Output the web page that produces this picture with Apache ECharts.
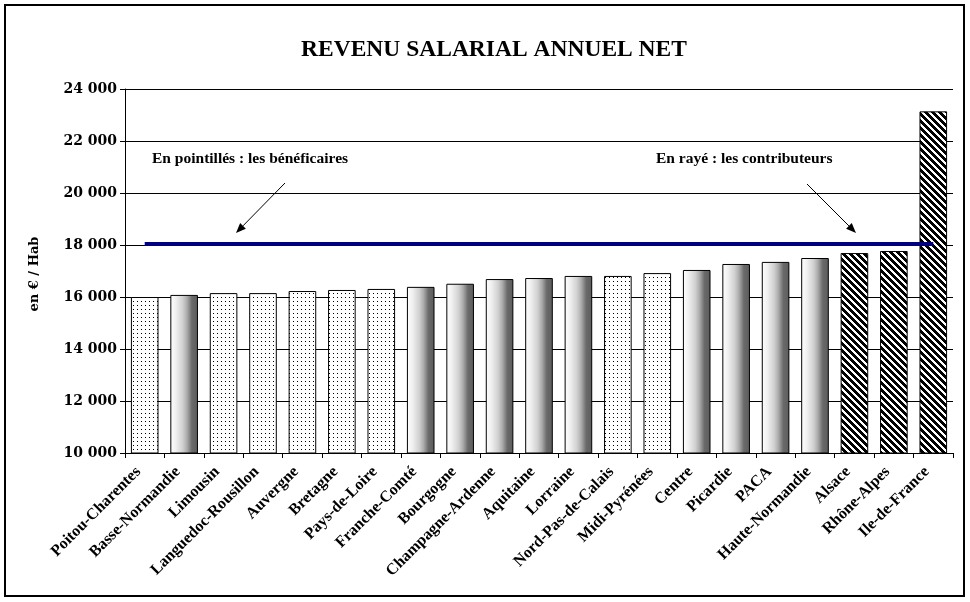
<!DOCTYPE html>
<html>
<head>
<meta charset="utf-8">
<script src="https://cdn.jsdelivr.net/npm/echarts@6/dist/echarts.min.js"></script>
<style>
  html, body { margin: 0; padding: 0; background: #fff; }
  #chart { width: 970px; height: 602px; }
</style>
</head>
<body>
<div id="chart"></div>
<script>
// ---------- DATA ----------
const categories = [
  'Poitou-Charentes', 'Basse-Normandie', 'Limousin', 'Languedoc-Rousillon',
  'Auvergne', 'Bretagne', 'Pays-de-Loire', 'Franche-Comté', 'Bourgogne',
  'Champagne-Ardenne', 'Aquitaine', 'Lorraine', 'Nord-Pas-de-Calais',
  'Midi-Pyrénées', 'Centre', 'Picardie', 'PACA', 'Haute-Normandie',
  'Alsace', 'Rhône-Alpes', 'Ile-de-France'
];
const revenus = [
  16000, 16080, 16150, 16150, 16230, 16270, 16310, 16390, 16510,
  16690, 16730, 16810, 16810, 16920, 17040, 17270, 17350, 17500,
  17690, 17770, 23140
];
// 'B' = bénéficiaire (pointillés), 'N' = neutre, 'C' = contributeur (rayé)
const statut = [
  'B', 'N', 'B', 'B', 'B', 'B', 'B', 'N', 'N',
  'N', 'N', 'N', 'B', 'B', 'N', 'N', 'N', 'N',
  'C', 'C', 'C'
];
const referenceLevel = 18060;
const yTicks = [10000, 12000, 14000, 16000, 18000, 20000, 22000, 24000];
const titleText = 'REVENU SALARIAL ANNUEL NET';
const yAxisName = 'en € / Hab';
const noteBenef = 'En pointillés : les bénéficaires';
const noteContrib = 'En rayé : les contributeurs';

// ---------- PATTERNS ----------
function dotPattern() {
  const c = document.createElement('canvas');
  c.width = 4; c.height = 4;
  const g = c.getContext('2d');
  g.fillStyle = '#fff'; g.fillRect(0, 0, 4, 4);
  g.fillStyle = '#000'; g.fillRect(1, 1, 1, 1);
  return c;
}
function hatchPattern() {
  const n = 7;
  const c = document.createElement('canvas');
  c.width = n; c.height = n;
  const g = c.getContext('2d');
  g.fillStyle = '#fff'; g.fillRect(0, 0, n, n);
  g.fillStyle = '#000';
  for (let y = 0; y < n; y++) {
    for (let x = 0; x < n; x++) {
      if (((x - y) % n + n) % n < 4) g.fillRect(x, y, 1, 1);
    }
  }
  return c;
}
const styles = {
  B: { color: { image: dotPattern(), repeat: 'repeat' } },
  C: { color: { image: hatchPattern(), repeat: 'repeat' } },
  N: { color: {
    type: 'linear', x: 0, y: 0, x2: 1, y2: 0,
    colorStops: [
      { offset: 0, color: '#ffffff' },
      { offset: 0.2, color: '#f0f0f0' },
      { offset: 0.45, color: '#d0d0d0' },
      { offset: 0.6, color: '#acacac' },
      { offset: 0.7, color: '#888888' },
      { offset: 0.78, color: '#6a6a6a' },
      { offset: 1, color: '#5c5c5c' }
    ]
  } }
};

const barData = revenus.map((v, i) => ({
  value: v,
  itemStyle: Object.assign({ borderColor: '#000', borderWidth: 1 }, styles[statut[i]])
}));

function fmt(v) {
  return String(v).replace(/\B(?=(\d{3})+(?!\d))/g, ' ');
}

function arrow(x1, y1, x2, y2) {
  const ang = Math.atan2(y2 - y1, x2 - x1);
  const L = 10, W = 4;
  const bx = x2 - L * Math.cos(ang), by = y2 - L * Math.sin(ang);
  const px = -Math.sin(ang) * W, py = Math.cos(ang) * W;
  return [
    { type: 'line', shape: { x1: x1, y1: y1, x2: bx, y2: by }, style: { stroke: '#000', lineWidth: 1 } },
    { type: 'polygon', shape: { points: [[x2, y2], [bx + px, by + py], [bx - px, by - py]] }, style: { fill: '#000' } }
  ];
}

const serif = '"Liberation Serif", "Times New Roman", serif';
const wideSerif = '"DejaVu Serif", serif';

const chart = echarts.init(document.getElementById('chart'), null, { renderer: 'canvas' });
chart.setOption({
  backgroundColor: '#fff',
  animation: false,
  title: {
    text: titleText,
    left: 489, top: 33, textAlign: 'center',
    textStyle: { fontFamily: serif, fontWeight: 'bold', fontSize: 23.5, color: '#000' }
  },
  grid: { left: 125, right: 17, top: 89, bottom: 149, containLabel: false },
  xAxis: {
    type: 'category',
    data: categories,
    boundaryGap: true,
    axisLine: { show: true, lineStyle: { color: '#000', width: 1 } },
    axisTick: { show: true, length: 5, lineStyle: { color: '#000' } },
    axisLabel: {
      interval: 0, rotate: 45, margin: 10, padding: [0, 9, 0, 0],
      fontFamily: serif, fontWeight: 'bold', fontSize: 16, color: '#000'
    },
    splitLine: { show: false }
  },
  yAxis: {
    type: 'value',
    min: yTicks[0], max: yTicks[yTicks.length - 1], interval: yTicks[1] - yTicks[0],
    name: yAxisName,
    nameLocation: 'middle',
    nameGap: 84,
    nameTextStyle: { fontFamily: wideSerif, fontWeight: 'bold', fontSize: 13, color: '#000', padding: [0, 6, 0, 0] },
    axisLine: { show: true, lineStyle: { color: '#000', width: 1 } },
    axisTick: { show: true, length: 5, lineStyle: { color: '#000' } },
    axisLabel: {
      margin: 8, formatter: fmt,
      fontFamily: wideSerif, fontWeight: 'bold', fontSize: 14, color: '#000'
    },
    splitLine: { show: true, lineStyle: { color: '#000', width: 1, type: 'solid' } }
  },
  series: [{
    type: 'bar',
    data: barData,
    barWidth: '70%',
    markLine: {
      silent: true,
      symbol: ['none', 'none'],
      label: { show: false },
      lineStyle: { color: '#000080', width: 4, type: 'solid' },
      data: [[
        { coord: [categories[0], referenceLevel] },
        { coord: [categories[categories.length - 1], referenceLevel] }
      ]]
    }
  }],
  graphic: [
    { type: 'rect', shape: { x: 5, y: 5, width: 959, height: 591 }, style: { fill: 'none', stroke: '#000', lineWidth: 2 }, z: 100 },
    { type: 'text', left: 152, top: 151, style: { text: noteBenef, font: 'bold 15.5px ' + serif, fill: '#000' } },
    { type: 'text', left: 656, top: 151, style: { text: noteContrib, font: 'bold 15.5px ' + serif, fill: '#000' } },
    { type: 'group', children: arrow(285, 183, 236, 233) },
    { type: 'group', children: arrow(807, 184, 856, 233) }
  ]
});
</script>
</body>
</html>
